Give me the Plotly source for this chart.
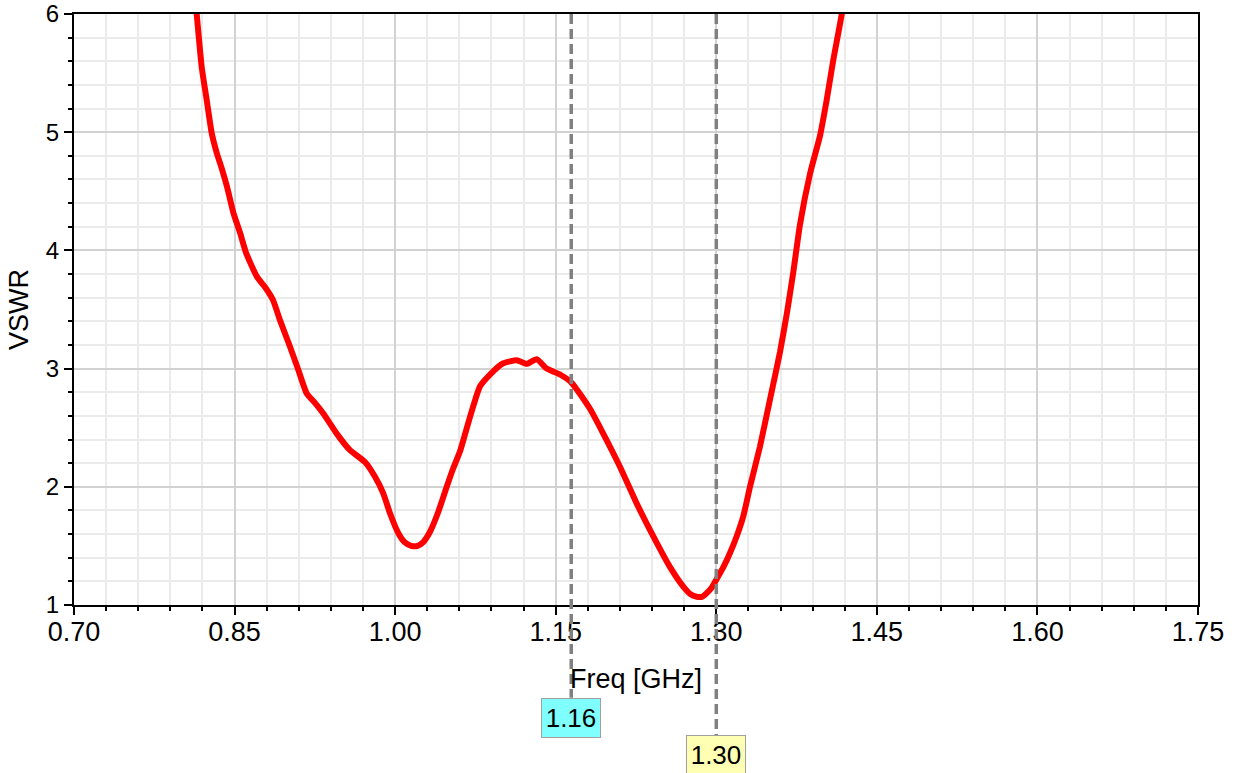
import plotly.graph_objects as go

freq = [0.8120, 0.8146, 0.8193, 0.8240, 0.8287, 0.8335, 0.8385, 0.8432, 0.8488, 0.8551, 0.8607,
        0.8707, 0.8784, 0.8859, 0.8924, 0.9018, 0.9095, 0.9174, 0.9251, 0.9329, 0.9454,
        0.9578, 0.9718, 0.9812, 0.9889, 0.9952, 1.0030, 1.0090, 1.0150, 1.0210, 1.0260,
        1.0326, 1.0400, 1.0482, 1.0540, 1.0606, 1.0699, 1.0793, 1.0886, 1.1010, 1.1136,
        1.1229, 1.1322, 1.1416, 1.1540, 1.1649, 1.1820, 1.1944, 1.2100, 1.2256, 1.2412,
        1.2568, 1.2692, 1.2760, 1.2817, 1.2870, 1.2910, 1.2960, 1.3004, 1.3066, 1.3128,
        1.3190, 1.3252, 1.3315, 1.3408, 1.3502, 1.3595, 1.3660, 1.3720, 1.3782, 1.3876,
        1.3969, 1.4031, 1.4093, 1.4172, 1.4200]
vswr = [6.25, 6.00, 5.55, 5.27, 4.99, 4.82, 4.68, 4.53, 4.32, 4.15, 3.98,
        3.78, 3.69, 3.58, 3.41, 3.185, 2.99, 2.79, 2.71, 2.62, 2.45,
        2.31, 2.21, 2.085, 1.945, 1.776, 1.607, 1.53, 1.50, 1.50, 1.53,
        1.62, 1.78, 2.00, 2.15, 2.30, 2.59, 2.85, 2.95, 3.045, 3.07,
        3.04, 3.08, 3.00, 2.95, 2.88, 2.66, 2.45, 2.17, 1.86, 1.58,
        1.32, 1.155, 1.09, 1.07, 1.07, 1.10, 1.15, 1.22, 1.32, 1.44,
        1.58, 1.75, 2.00, 2.34, 2.74, 3.14, 3.47, 3.82, 4.22, 4.65,
        4.97, 5.27, 5.61, 6.00, 6.20]

marker_freq = [1.1645, 1.30]
marker_labels = ["1.16", "1.30"]
marker_colors = ["#80ffff", "#ffffb3"]
marker_label_y = [-0.157, -0.22]

x_ticks = [0.70, 0.85, 1.00, 1.15, 1.30, 1.45, 1.60, 1.75]
x_tick_labels = ["0.70", "0.85", "1.00", "1.15", "1.30", "1.45", "1.60", "1.75"]
y_ticks = [1, 2, 3, 4, 5, 6]

FONT = "Liberation Sans, Arial, sans-serif"

fig = go.Figure()
fig.add_trace(go.Scatter(x=freq, y=vswr, mode="lines",
                         line=dict(color="#ff0000", width=6, shape="spline", smoothing=0.5),
                         showlegend=False, hoverinfo="skip"))

for xv, lab, col, ly in zip(marker_freq, marker_labels, marker_colors, marker_label_y):
    fig.add_shape(type="line", xref="x", yref="paper", x0=xv, x1=xv, y0=1, y1=ly,
                  line=dict(color="#808080", width=3.5, dash="10px,5px"), layer="above")
    fig.add_annotation(x=xv, y=ly, xref="x", yref="paper", text=lab, showarrow=False,
                       xanchor="center", yanchor="top", bgcolor=col,
                       bordercolor="#a0a0a0", borderwidth=1, borderpad=2,
                       width=54, height=34,
                       font=dict(family=FONT, size=26, color="#000000"))

axis_common = dict(showline=True, linecolor="#000000", linewidth=2, mirror=True,
                   ticks="outside", ticklen=8, tickwidth=2, tickcolor="#000000",
                   showgrid=True, gridcolor="#d2d2d2", gridwidth=1.5, zeroline=False,
                   automargin=False)

fig.update_xaxes(range=[0.70, 1.75], tickvals=x_ticks, ticktext=x_tick_labels,
                 tickfont=dict(family=FONT, size=27, color="#000000"),
                 ticklabelstandoff=-6,
                 minor=dict(dtick=0.03, tick0=0.70, showgrid=True, gridcolor="#ebebeb",
                            gridwidth=1.5, ticks="outside", ticklen=4, tickcolor="#000000",
                            tickwidth=2),
                 title=dict(text="Freq [GHz]", font=dict(family=FONT, size=27, color="#000000"),
                            standoff=23),
                 **axis_common)
fig.update_yaxes(range=[1, 6], tickvals=y_ticks,
                 tickfont=dict(family=FONT, size=24, color="#000000"),
                 minor=dict(dtick=0.2, tick0=1, showgrid=True, gridcolor="#ebebeb",
                            gridwidth=1.5, ticks="outside", ticklen=4, tickcolor="#000000",
                            tickwidth=2),
                 title=dict(text="VSWR", font=dict(family=FONT, size=27, color="#000000"),
                            standoff=9),
                 **axis_common)

fig.update_layout(width=1235, height=773, margin=dict(l=74, r=37, t=14, b=168),
                  plot_bgcolor="#ffffff", paper_bgcolor="#ffffff")

fig.write_html("out.html")
